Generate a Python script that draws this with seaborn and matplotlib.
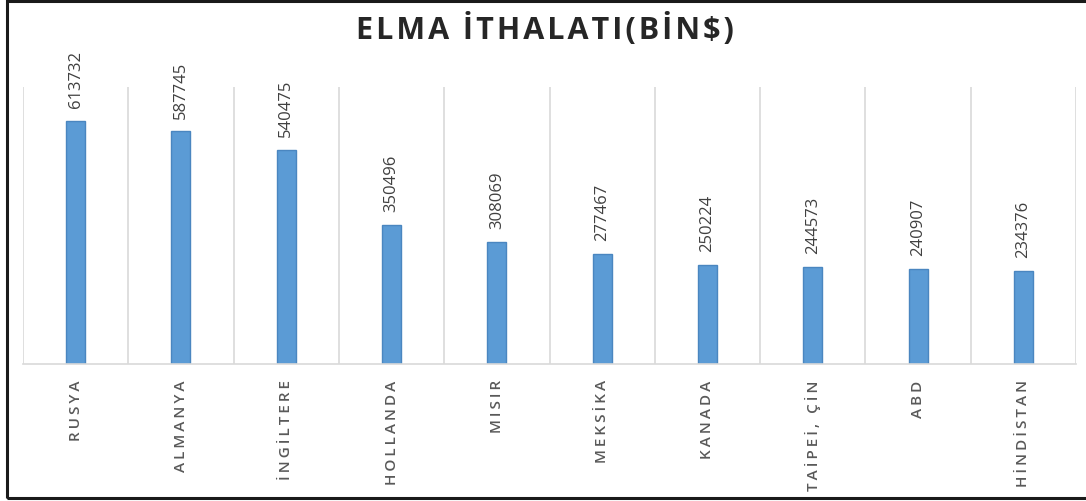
import numpy as np
import pandas as pd
import matplotlib
matplotlib.use("Agg")
import matplotlib.pyplot as plt
import seaborn as sb
from matplotlib.ticker import FixedLocator
from matplotlib.patches import Rectangle

# ulkeler ve elma ithalati (bin $)
countries = ['RUSYA', 'ALMANYA', 'İNGİLTERE', 'HOLLANDA', 'MISIR',
             'MEKSİKA', 'KANADA', 'TAİPEİ, ÇİN', 'ABD', 'HİNDİSTAN']
imports = [613732, 587745, 540475, 350496, 308069,
           277467, 250224, 244573, 240907, 234376]
title = 'ELMA İTHALATI(BİN$)'

sb.set_style('white')
plt.rcParams['font.family'] = ['Open Sans', 'DejaVu Sans']

df = pd.DataFrame({'country': countries, 'value': imports})

fig = plt.figure(figsize=(10.86, 5.02), dpi=100)
ax = fig.add_axes([0.0212, 0.2729, 0.9696, 0.5518])

sb.barplot(data=df, x='country', y='value', color='#5B9BD5', width=0.18,
           edgecolor='#4A86C0', linewidth=1, saturation=1, ax=ax)

ax.set_ylim(0, 700000)
ax.set_xlim(-0.5, len(countries) - 0.5)
ax.set_yticks([])
ax.set_xlabel('')
ax.set_ylabel('')

# kategori ayirici cizgiler
ax.xaxis.set_minor_locator(FixedLocator(np.arange(-0.5, len(countries))))
ax.grid(True, which='minor', axis='x', color='#D9D9D9', linewidth=1.2)
ax.tick_params(axis='x', which='both', length=0)

# harf araligi icin ince bosluk
thin = '\u2009'
hair = '\u200a'
ax.set_xticks(range(len(countries)))
ax.set_xticklabels([thin.join(c) for c in countries], rotation=90,
                   fontsize=11, color='#595959', fontweight='semibold')
ax.tick_params(axis='x', pad=11)

for s in ['top', 'left', 'right']:
    ax.spines[s].set_visible(False)
ax.spines['bottom'].set_color('#D9D9D9')
ax.spines['bottom'].set_linewidth(1.2)

# deger etiketleri
for i, v in enumerate(imports):
    ax.annotate(str(v), (i, v), xytext=(0, 10), textcoords='offset points',
                rotation=90, ha='center', va='bottom', fontsize=12,
                color='#404040')

fig.text(0.502, 0.922, hair.join(title), ha='center', va='baseline',
         fontsize=22, fontweight='bold', color='#262626')

# cerceve (sag kenar kesik)
fig.patches.append(Rectangle((0.0065, 0.006), 1.05, 0.99, transform=fig.transFigure,
                             fill=False, edgecolor='#1a1a1a', linewidth=2.2))

fig.savefig('out.png', dpi=100, facecolor='white')
